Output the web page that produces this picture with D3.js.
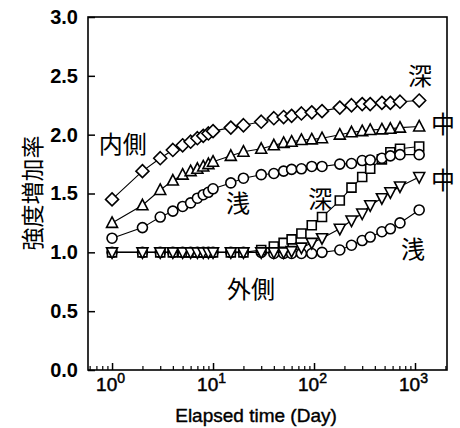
<!DOCTYPE html>
<html>
<head>
<meta charset="utf-8">
<script src="https://cdn.jsdelivr.net/npm/d3@7"></script>
<style>
  body { margin: 0; background: #fff; }
  svg { display: block; }
</style>
</head>
<body>
<svg id="chart" width="460" height="428"></svg>
<script>
// sampling days (same for every series)
var days = [1, 2, 3, 4, 5, 6, 7, 8, 9, 10, 15, 20, 30, 40, 50, 60, 75, 95, 120, 180, 235, 300, 360, 470, 570, 710, 1100]

// inner side (内側)
var innerDeep = [1.45, 1.69, 1.80, 1.87, 1.91, 1.94, 1.97, 1.99, 2.01, 2.03, 2.06, 2.08, 2.11, 2.14, 2.15, 2.16, 2.18, 2.19, 2.20, 2.23, 2.25, 2.26, 2.26, 2.27, 2.27, 2.28, 2.29]
var innerMid = [1.25, 1.40, 1.53, 1.61, 1.66, 1.69, 1.71, 1.73, 1.75, 1.77, 1.82, 1.855, 1.88, 1.91, 1.93, 1.94, 1.955, 1.96, 1.97, 2.00, 2.02, 2.03, 2.04, 2.045, 2.05, 2.06, 2.07]
var innerShallow = [1.12, 1.21, 1.30, 1.35, 1.39, 1.42, 1.46, 1.49, 1.51, 1.54, 1.59, 1.63, 1.66, 1.67, 1.69, 1.705, 1.71, 1.73, 1.73, 1.75, 1.755, 1.78, 1.785, 1.80, 1.82, 1.83, 1.83]

// outer side (外側)
var outerDeep = [1.0, 1.0, 1.0, 1.0, 1.0, 1.0, 1.0, 1.0, 1.0, 1.0, 1.0, 1.0, 1.02, 1.05, 1.08, 1.11, 1.16, 1.23, 1.30, 1.44, 1.55, 1.64, 1.71, 1.79, 1.85, 1.88, 1.90]
var outerMid = [1.0, 1.0, 1.0, 1.0, 1.0, 1.0, 1.0, 1.0, 1.0, 1.0, 1.0, 1.0, 1.0, 1.0, 1.0, 1.01, 1.04, 1.08, 1.12, 1.20, 1.27, 1.33, 1.40, 1.46, 1.51, 1.56, 1.64]
var outerShallow = [1.0, 1.0, 1.0, 1.0, 1.0, 1.0, 1.0, 1.0, 1.0, 1.0, 1.0, 1.0, 1.0, 0.99, 0.99, 0.99, 0.99, 0.99, 1.0, 1.02, 1.06, 1.10, 1.13, 1.175, 1.20, 1.25, 1.36]

var yTicks = [0, 0.5, 1.0, 1.5, 2.0, 2.5, 3.0]
var xMajor = [1, 10, 100, 1000]
var xMinor = [0.6, 0.7, 0.8, 0.9, 2, 3, 4, 5, 6, 7, 8, 9, 20, 30, 40, 50, 60, 70, 80, 90, 200, 300, 400, 500, 600, 700, 800, 900, 2000]

// text labels placed on the plot: [text, day, value]
var labels = [
  ['内側', 1.28, 1.93],
  ['浅', 17.7, 1.43],
  ['外側', 23.8, 0.705],
  ['深', 115, 1.47],
  ['深', 1120, 2.51],
  ['中', 1890, 2.10],
  ['中', 1890, 1.63],
  ['浅', 955, 1.04]
]

var svg = d3.select('#chart')
var plotLeft = 88, plotRight = 447, plotTop = 17, plotBottom = 370

var x = d3.scaleLog().domain([0.578, 2074]).range([plotLeft, plotRight])
var y = d3.scaleLinear().domain([0, 3]).range([plotBottom, plotTop])

var cjk = '"Noto Sans CJK JP", "Noto Sans CJK SC", sans-serif'
var latin = '"Liberation Sans", Arial, Helvetica, sans-serif'

// axes (ticks pointing inward)
var yAxis = svg.append('g')
  .attr('transform', 'translate(' + plotLeft + ',0)')
  .call(d3.axisLeft(y).tickValues(yTicks).tickSize(-7).tickPadding(10).tickFormat(d3.format('.1f')))
yAxis.select('.domain').remove()
yAxis.selectAll('line').attr('stroke', '#000').attr('stroke-width', 1.5)
yAxis.selectAll('text')
  .attr('font-family', latin).attr('font-weight', 'bold').attr('font-size', 20).attr('fill', '#000')

var xMinorAxis = svg.append('g')
  .attr('transform', 'translate(0,' + plotBottom + ')')
  .call(d3.axisBottom(x).tickValues(xMinor).tickSize(-4).tickFormat(''))
xMinorAxis.select('.domain').remove()
xMinorAxis.selectAll('line').attr('stroke', '#000').attr('stroke-width', 1.2)

var xAxis = svg.append('g')
  .attr('transform', 'translate(0,' + plotBottom + ')')
  .call(d3.axisBottom(x).tickValues(xMajor).tickSize(-7))
xAxis.select('.domain').remove()
xAxis.selectAll('line').attr('stroke', '#000').attr('stroke-width', 1.5)
xAxis.selectAll('.tick text').each(function (d) {
  var t = d3.select(this)
  t.text(null).attr('y', 21).attr('dy', null).attr('x', -2)
    .attr('font-family', latin).attr('font-size', 19).attr('fill', '#000')
    .attr('stroke', '#000').attr('stroke-width', 0.5)
  t.append('tspan').text('10')
  t.append('tspan').attr('dy', -8).attr('font-size', 14).text(Math.round(Math.log10(d)))
})

// frame
svg.append('rect')
  .attr('x', plotLeft).attr('y', plotTop)
  .attr('width', plotRight - plotLeft).attr('height', plotBottom - plotTop)
  .attr('fill', 'none').attr('stroke', '#000').attr('stroke-width', 1.6)

// series
var line = d3.line()
  .x(function (d) { return x(d[0]) })
  .y(function (d) { return y(d[1]) })

var series = [
  { values: outerShallow, shape: 'circle', size: 10 },
  { values: outerDeep, shape: 'square', size: 9 },
  { values: outerMid, shape: 'triDown', size: 11 },
  { values: innerShallow, shape: 'circle', size: 10 },
  { values: innerMid, shape: 'triUp', size: 11 },
  { values: innerDeep, shape: 'diamond', size: 13 }
]

function markerPath(shape, s) {
  var h = s / 2
  if (shape === 'square') return 'M' + -h + ',' + -h + 'H' + h + 'V' + h + 'H' + -h + 'Z'
  if (shape === 'diamond') return 'M0,' + -h + 'L' + h + ',0L0,' + h + 'L' + -h + ',0Z'
  if (shape === 'triUp') return 'M0,' + (-h - 0.5) + 'L' + h + ',' + (h - 1) + 'L' + -h + ',' + (h - 1) + 'Z'
  if (shape === 'triDown') return 'M0,' + (h + 0.5) + 'L' + h + ',' + (-h + 1) + 'L' + -h + ',' + (-h + 1) + 'Z'
  return d3.arc()({ innerRadius: 0, outerRadius: h, startAngle: 0, endAngle: 2 * Math.PI })
}

series.forEach(function (s) {
  var pts = days.map(function (d, i) { return [d, s.values[i]] })
  var g = svg.append('g')
  g.append('path')
    .datum(pts)
    .attr('d', line)
    .attr('fill', 'none')
    .attr('stroke', '#000')
    .attr('stroke-width', 1.1)
  g.selectAll('path.mark')
    .data(pts)
    .join('path')
    .attr('class', 'mark')
    .attr('transform', function (d) { return 'translate(' + x(d[0]) + ',' + y(d[1]) + ')' })
    .attr('d', markerPath(s.shape, s.size))
    .attr('fill', '#fff')
    .attr('stroke', '#000')
    .attr('stroke-width', 1.6)
})

// labels on the plot
svg.selectAll('text.lab')
  .data(labels)
  .join('text')
  .attr('class', 'lab')
  .attr('x', function (d) { return x(d[1]) })
  .attr('y', function (d) { return y(d[2]) })
  .attr('text-anchor', 'middle')
  .attr('dominant-baseline', 'central')
  .attr('font-family', cjk)
  .attr('font-size', 24)
  .attr('fill', '#000')
  .text(function (d) { return d[0] })

// axis titles
svg.append('text')
  .attr('x', 256).attr('y', 422)
  .attr('text-anchor', 'middle')
  .attr('font-family', latin).attr('font-size', 19).attr('fill', '#000')
  .attr('stroke', '#000').attr('stroke-width', 0.4)
  .text('Elapsed time (Day)')

svg.append('text')
  .attr('transform', 'translate(31,193) rotate(-90)')
  .attr('text-anchor', 'middle')
  .attr('dominant-baseline', 'central')
  .attr('font-family', cjk).attr('font-size', 23).attr('fill', '#000')
  .text('強度増加率')
</script>
</body>
</html>
